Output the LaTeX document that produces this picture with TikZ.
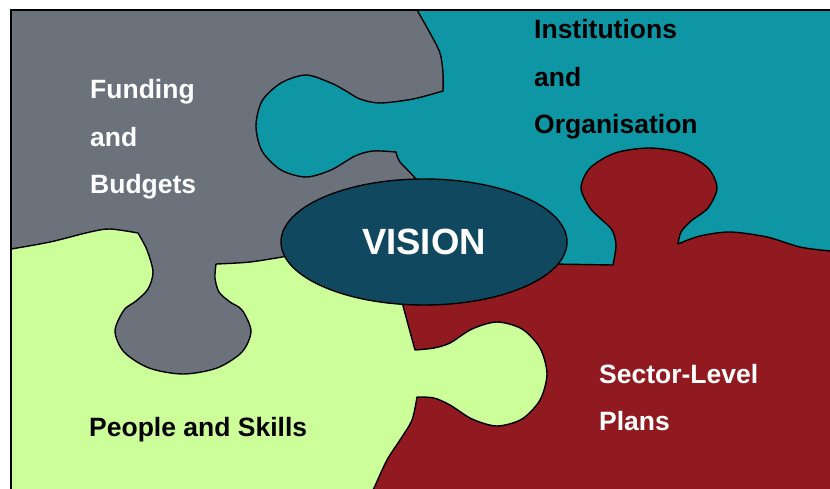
\documentclass[tikz,border=0pt]{standalone}
\usepackage{fontspec}
\setmainfont{Liberation Sans}
\usetikzlibrary{shapes.geometric}
\definecolor{pgray}{HTML}{6C727C}
\definecolor{pteal}{HTML}{0E96A5}
\definecolor{pred}{HTML}{911A20}
\definecolor{pgreen}{HTML}{CCFF99}
\definecolor{pvis}{HTML}{10495F}
\begin{document}
\begin{tikzpicture}[x=1pt,y=-1pt,
  edge/.style={draw=black,line width=1.4pt,line join=round},
  lbl/.style={anchor=base west,inner sep=0pt,font=\fontsize{26.5}{26.5}\selectfont\bfseries}]
\useasboundingbox (0,0) rectangle (830,488);
\clip (0,0) rectangle (830,488);
% teal base
\fill[pteal] (11,10) rectangle (845,500);
% green base
\fill[pgreen] (11,200) -- (300,200) -- (330,240) -- (420,300) -- (600,300) -- (600,500) -- (11,500) -- cycle;
% red piece
\path[edge,fill=pred] (530,250) -- (552,264) -- (613,265)
  -- plot[smooth] coordinates {(613,265) (616,245) (612,230) (601,219) (590,208) (581,188) (590,168) (615,153) (649,148) (683,153) (708,168) (717,188) (708,208) (691,221) (681,232) (678,244)}
  -- plot[smooth] coordinates {(678,244) (700,236) (730,232) (767,237) (800,247) (830,251) (845,252)}
  -- (845,500) -- (368,500)
  -- plot[smooth] coordinates {(368,500) (374,488) (387,460) (400,440) (412,420) (417,397)}
  -- plot[smooth] coordinates {(417,397) (434,398) (450,405) (472,419) (497,426) (522,419) (540,400) (547,374) (540,348) (522,329) (497,322) (472,329) (450,343) (434,348) (415,350)}
  -- plot[smooth] coordinates {(415,350) (409,328) (402,302)}
  -- (410,280) -- cycle;
% gray piece
\path[edge,fill=pgray] (11,10) -- (417,10)
  -- plot[smooth] coordinates {(417,10) (430,33) (440,53) (443,73) (443,91)}
  -- plot[smooth] coordinates {(443,91) (413,99) (380,103) (360,99) (346,91) (331,83) (306,75) (281,83) (262,101) (256,126) (262,151) (281,170) (306,177) (331,170) (355,156) (373,151) (396,152)}
  -- plot[smooth] coordinates {(396,152) (400,162) (415,178) (425,195)}
  -- (380,230) -- (288,256)
  -- plot[smooth] coordinates {(288,256) (250,262) (216,264)}
  -- plot[smooth] coordinates {(216,264) (215,278) (219,292) (230,302) (242,310) (251,331) (242,352) (217,368) (183,374) (149,368) (124,352) (115,331) (124,310) (136,301) (148,289) (153,272) (147,250) (138,233)}
  -- plot[smooth] coordinates {(138,233) (110,229) (90,232) (50,242) (11,249)}
  -- cycle;
% frame
\draw[line width=1.2pt] (845,10) -- (11,10) -- (11,500);
% vision
\node[ellipse,draw=black,line width=1.4pt,fill=pvis,minimum width=286pt,minimum height=126pt,inner sep=0pt,text=white,font=\fontsize{36.5}{36.5}\selectfont\bfseries] (vision) at (424,242) {VISION};
% labels
\node[lbl,text=white] (fund1) at (90,98) {Funding};
\node[lbl,text=white] (fund2) at (90,146) {and};
\node[lbl,text=white] (fund3) at (90,193) {Budgets};
\node[lbl,text=black] (inst1) at (534,38) {Institutions};
\node[lbl,text=black] (inst2) at (534,86) {and};
\node[lbl,text=black] (inst3) at (534,133) {Organisation};
\node[lbl,text=white] (sect1) at (599,383) {Sector-Level};
\node[lbl,text=white] (sect2) at (599,430) {Plans};
\node[lbl,text=black] (people) at (89,436) {People and Skills};
\end{tikzpicture}
\end{document}
